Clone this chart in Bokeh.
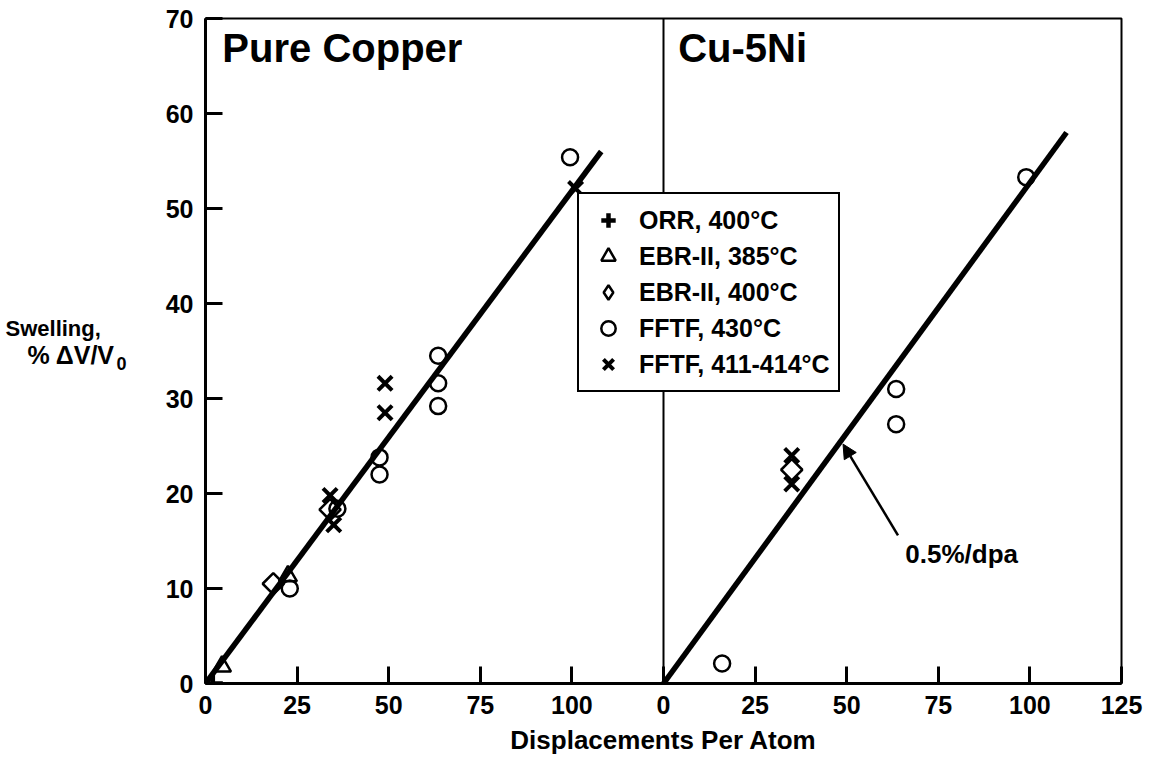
import numpy as np
from bokeh.plotting import figure
from bokeh.layouts import row
from bokeh.models import (Range1d, LinearAxis, FixedTicker, Span, Label, Legend,
                          LegendItem, Arrow, NormalHead)
from bokeh.embed import file_html
from bokeh.resources import INLINE

# ---------------- data ----------------
# Pure copper panel (dpa, swelling %)
cu_orr_x = [2]
cu_orr_y = [0]
cu_ebr385_x = [4.5, 22.5]
cu_ebr385_y = [1.8, 11.3]
cu_ebr400_x = [18.5, 34]
cu_ebr400_y = [10.5, 18.3]
cu_fftf430_x = [23, 36, 47.5, 47.5, 63.5, 63.5, 63.5, 99.5]
cu_fftf430_y = [10, 18.4, 23.8, 22.0, 34.5, 31.6, 29.2, 55.4]
cu_fftf411_x = [34, 35, 49, 49, 101]
cu_fftf411_y = [19.8, 16.7, 31.6, 28.5, 52.1]
cu_fit_x = [0, 108]
cu_fit_y = [0, 56]

# Cu-5Ni panel
cuni_ebr400_x = [35]
cuni_ebr400_y = [22.5]
cuni_fftf430_x = [16, 63.5, 63.5, 99]
cuni_fftf430_y = [2.1, 31.0, 27.3, 53.3]
cuni_fftf411_x = [35, 35]
cuni_fftf411_y = [24.0, 21.0]
cuni_fit_x = [0, 110]
cuni_fit_y = [0, 58]

# axes
panel_width = 125
left_ticks = [0, 25, 50, 75, 100]
right_ticks = [0, 25, 50, 75, 100, 125]
y_ticks = [0, 10, 20, 30, 40, 50, 60, 70]

legend_labels = ["ORR, 400°C", "EBR-II, 385°C", "EBR-II, 400°C",
                 "FFTF, 430°C", "FFTF, 411-414°C"]
y_label_lines = ["Swelling,", "% \u0394V/V"]
y_label_sub = "0"

FONT = "Liberation Sans"
SIDE_W = 150

# ---------------- side panel holding the horizontal y-axis title ----------------
side = figure(width=SIDE_W, height=771, output_backend="svg", toolbar_location=None,
              x_range=Range1d(0, SIDE_W), y_range=Range1d(771, 0),
              x_axis_type=None, y_axis_type=None, min_border=0)
side.outline_line_color = None
side.background_fill_color = "white"
side.border_fill_color = "white"
side.add_layout(Label(x=5, y=359, text=y_label_lines[0], text_font=FONT,
                      text_font_style="bold", text_font_size="22px",
                      text_color="black", text_baseline="alphabetic"))
side.add_layout(Label(x=27, y=390, text=y_label_lines[1], text_font=FONT,
                      text_font_style="bold", text_font_size="25px",
                      text_color="black", text_baseline="alphabetic"))
side.add_layout(Label(x=116, y=400, text=y_label_sub, text_font=FONT,
                      text_font_style="bold", text_font_size="18px",
                      text_color="black", text_baseline="alphabetic"))

# ---------------- main figure ----------------
p = figure(width=1151 - SIDE_W, height=771, output_backend="svg", toolbar_location=None,
           x_range=Range1d(0, 2 * panel_width), y_range=Range1d(0, 70),
           x_axis_type=None, y_axis_type=None,
           min_border_left=205 - SIDE_W, min_border_right=30,
           min_border_top=18, min_border_bottom=88)
p.extra_x_ranges = {"cuni": Range1d(-panel_width, panel_width)}
p.background_fill_color = "white"
p.border_fill_color = "white"
p.outline_line_color = "black"
p.outline_line_width = 2

tick_pos = left_ticks + [panel_width + t for t in right_ticks]
overrides = {t: str(t) for t in left_ticks}
overrides.update({panel_width + t: str(t) for t in right_ticks})

xaxis = LinearAxis(ticker=FixedTicker(ticks=tick_pos, minor_ticks=[]),
                   major_label_overrides=overrides,
                   axis_label="Displacements Per Atom")
yaxis = LinearAxis(ticker=FixedTicker(ticks=y_ticks, minor_ticks=[]))
for ax in (xaxis, yaxis):
    ax.major_tick_in = 17
    ax.major_tick_out = 0
    ax.minor_tick_in = 0
    ax.minor_tick_out = 0
    ax.major_tick_line_width = 3
    ax.axis_line_width = 3
    ax.axis_line_color = "black"
    ax.major_tick_line_color = "black"
    ax.major_label_text_font = FONT
    ax.major_label_text_font_style = "bold"
    ax.major_label_text_font_size = "25px"
    ax.major_label_text_color = "black"
    ax.major_label_standoff = 12
xaxis.axis_label_text_font = FONT
xaxis.axis_label_text_font_style = "bold"
xaxis.axis_label_text_font_size = "26px"
xaxis.axis_label_text_color = "black"
xaxis.axis_label_standoff = 8
p.add_layout(xaxis, "below")
p.add_layout(yaxis, "left")

# divider between panels
p.add_layout(Span(location=panel_width, dimension="height",
                  line_color="black", line_width=2))

# fit lines
p.line(cu_fit_x, cu_fit_y, line_color="black", line_width=5.5)
p.line(cuni_fit_x, cuni_fit_y, line_color="black", line_width=5.5,
       x_range_name="cuni")

# markers - pure copper
r_orr = p.scatter(cu_orr_x, cu_orr_y, marker="cross", size=20,
                  line_color="black", line_width=4.5)
r_t = p.scatter(cu_ebr385_x, cu_ebr385_y, marker="triangle", size=18,
                line_color="black", line_width=2.5, fill_alpha=0)
p.scatter(cu_ebr400_x, cu_ebr400_y, marker="square", angle=np.pi / 4, size=15,
          line_color="black", line_width=2.5, fill_alpha=0)
r_c = p.scatter(cu_fftf430_x, cu_fftf430_y, marker="circle", size=16,
                line_color="black", line_width=2.5, fill_alpha=0)
r_x = p.scatter(cu_fftf411_x, cu_fftf411_y, marker="x", size=20,
                line_color="black", line_width=4)
# legend swatch for the diamond series (a single undrawn NaN point)
r_d = p.scatter([np.nan], [np.nan], marker="diamond", size=22,
                line_color="black", line_width=2.5, fill_alpha=0)

# markers - Cu-5Ni
p.scatter(cuni_ebr400_x, cuni_ebr400_y, marker="square", angle=np.pi / 4, size=15,
          line_color="black", line_width=2.5, fill_alpha=0, x_range_name="cuni")
p.scatter(cuni_fftf430_x, cuni_fftf430_y, marker="circle", size=16,
          line_color="black", line_width=2.5, fill_alpha=0, x_range_name="cuni")
p.scatter(cuni_fftf411_x, cuni_fftf411_y, marker="x", size=20,
          line_color="black", line_width=4, x_range_name="cuni")

# panel titles
p.add_layout(Label(x=4.6, y=66.9, text="Pure Copper", text_font=FONT,
                   text_font_style="bold", text_font_size="40px",
                   text_color="black", text_baseline="alphabetic"))
p.add_layout(Label(x=4.0, y=66.9, text="Cu-5Ni", text_font=FONT,
                   text_font_style="bold", text_font_size="40px",
                   text_color="black", text_baseline="alphabetic",
                   x_range_name="cuni"))

# slope annotation
p.add_layout(Arrow(end=NormalHead(size=14, fill_color="black", line_color="black"),
                   x_start=64, y_start=15.6, x_end=49, y_end=25.2,
                   line_color="black", line_width=2.5, x_range_name="cuni"))
p.add_layout(Label(x=66, y=13.6, text="0.5%/dpa", text_font=FONT,
                   text_font_style="bold", text_font_size="26px",
                   text_color="black", text_baseline="alphabetic",
                   x_range_name="cuni"))

# legend
legend = Legend(items=[LegendItem(label=legend_labels[0], renderers=[r_orr]),
                       LegendItem(label=legend_labels[1], renderers=[r_t]),
                       LegendItem(label=legend_labels[2], renderers=[r_d]),
                       LegendItem(label=legend_labels[3], renderers=[r_c]),
                       LegendItem(label=legend_labels[4], renderers=[r_x])],
                location=(372, 291),
                glyph_width=42, glyph_height=36, spacing=0, padding=8,
                label_standoff=10, label_height=36,
                label_text_font=FONT, label_text_font_style="bold",
                label_text_font_size="25px", label_text_color="black",
                border_line_color="black", border_line_width=2.5,
                border_line_alpha=1.0,
                background_fill_color="white", background_fill_alpha=1.0)
p.add_layout(legend)

open("out.html", "w").write(file_html(row(side, p, spacing=0), INLINE))
